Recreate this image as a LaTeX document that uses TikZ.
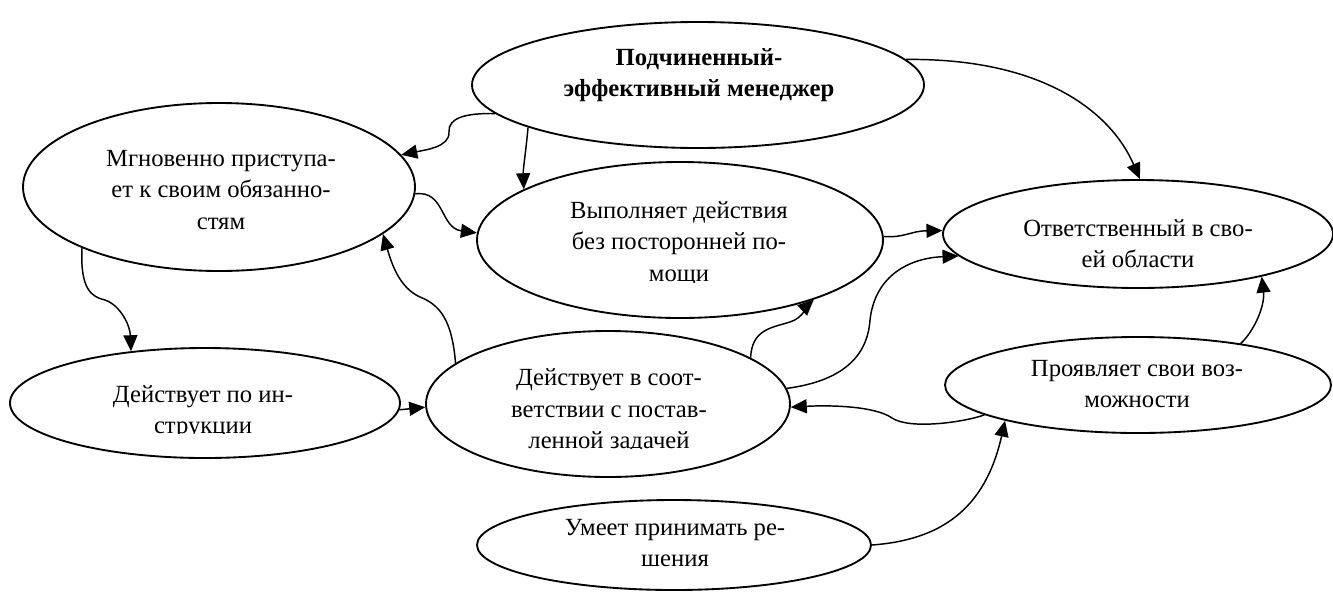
\documentclass[tikz,border=0pt]{standalone}
\usepackage{fontspec}
\setmainfont{Liberation Serif}
\usetikzlibrary{shapes.geometric,arrows.meta}
\tikzset{
  ell/.style={draw, ellipse, line width=1.4pt, inner sep=0pt},
  txt/.style={align=center, inner sep=0pt, font=\fontsize{18.5}{23.5}\selectfont},
  conn/.style={line width=1.1pt, -{Triangle[length=12pt,width=10.5pt]}}
}
\begin{document}
\begin{tikzpicture}[x=0.75pt,y=-0.75pt]
\useasboundingbox (0,0) rectangle (1333,593);
% ellipses
\node[ell, minimum width=339pt, minimum height=94.5pt] (top) at (698,85) {};
\node[ell, minimum width=294pt, minimum height=126pt] (mgn) at (219,187) {};
\node[ell, minimum width=304.5pt, minimum height=117pt] (vyp) at (680,240) {};
\node[ell, minimum width=292.5pt, minimum height=81pt] (otv) at (1138,234) {};
\node[ell, minimum width=292.5pt, minimum height=82.5pt] (instr) at (205,403) {};
\node[ell, minimum width=273pt, minimum height=109.5pt] (sootv) at (608,404) {};
\node[ell, minimum width=289.5pt, minimum height=72pt] (proyav) at (1138,385) {};
\node[ell, minimum width=295.5pt, minimum height=67.5pt] (umeet) at (674,545) {};
% texts
\node[txt, font=\fontsize{18.5}{23.5}\selectfont\bfseries] (ttop) at (699,75) {Подчиненный-\\эффективный менеджер};
\node[txt] (tmgn) at (221,190) {Мгновенно приступа-\\ет к своим обязанно-\\стям};
\begin{scope}
\clip (450,150) rectangle (900,282);
\node[txt] (tvyp) at (679,244) {Выполняет действия\\без посторонней по-\\мощи};
\end{scope}
\node[txt] (totv) at (1138,244) {Ответственный в сво-\\ей области};
\begin{scope}
\clip (0,360) rectangle (420,433);
\node[txt] (tinstr) at (203,412) {Действует по ин-\\струкции};
\end{scope}
\begin{scope}
\clip (420,340) rectangle (800,448);
\node[txt] (tsootv) at (609,411) {Действует в соот-\\ветствии с постав-\\ленной задачей};
\end{scope}
\node[txt] (tproyav) at (1137,384) {Проявляет свои воз-\\можности};
\node[txt] (tumeet) at (675,543) {Умеет принимать ре-\\шения};
% connectors
\draw[conn] (top.188) .. controls (465,113) and (448,118) .. (449,132) .. controls (450,147) and (425,150) .. (mgn.10);
\draw[conn] (top.194) .. controls (526,150) and (523,170) .. (vyp.162);
\draw[conn] (top.7) .. controls (1040,58) and (1110,110) .. (otv.88);
\draw[conn] (mgn.-2) .. controls (445,190) and (440,228) .. (vyp.178);
\draw[conn] (mgn.204) .. controls (80,290) and (92,297) .. (105,300) .. controls (120,305) and (130,325) .. (instr.145);
\draw[conn] (instr.-2) -- (sootv.181);
\draw[conn] (sootv.165) .. controls (452,320) and (440,305) .. (420,297) .. controls (400,288) and (392,265) .. (mgn.-16);
\draw[conn] (sootv.18) .. controls (752,330) and (770,328) .. (790,322) .. controls (803,318) and (808,305) .. (vyp.-24);
\draw[conn] (sootv.5) .. controls (850,380) and (868,350) .. (870,320) .. controls (875,275) and (910,258) .. (otv.187);
\draw[conn] (vyp.1) .. controls (905,238) and (910,231) .. (otv.179);
\draw[conn] (proyav.191) .. controls (965,422) and (910,430) .. (892,418) .. controls (875,406) and (830,405) .. (sootv.-1);
\draw[conn] (proyav.22) .. controls (1255,330) and (1265,305) .. (otv.-19);
\draw[conn] (umeet.east) .. controls (940,540) and (985,510) .. (proyav.195);
\end{tikzpicture}
\end{document}
